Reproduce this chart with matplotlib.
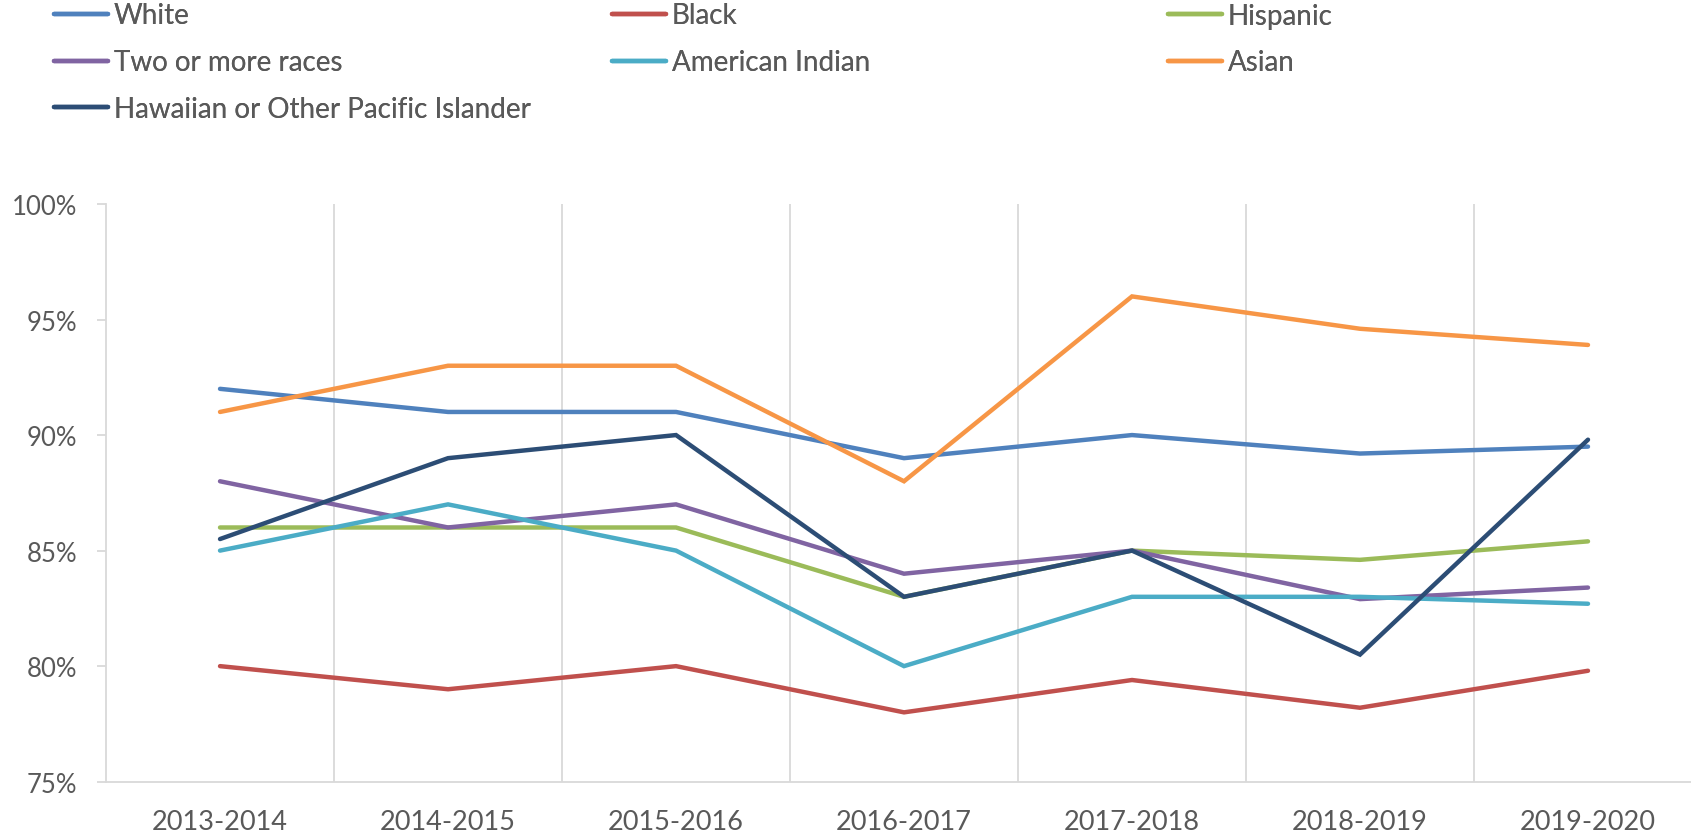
import matplotlib
matplotlib.use('Agg')
import matplotlib.pyplot as plt
from matplotlib.ticker import FuncFormatter, MultipleLocator

# --- data ---
years = ['2013-2014', '2014-2015', '2015-2016', '2016-2017',
         '2017-2018', '2018-2019', '2019-2020']

white = [92.0, 91.0, 91.0, 89.0, 90.0, 89.2, 89.5]
black = [80.0, 79.0, 80.0, 78.0, 79.4, 78.2, 79.8]
hispanic = [86.0, 86.0, 86.0, 83.0, 85.0, 84.6, 85.4]
two_more = [88.0, 86.0, 87.0, 84.0, 85.0, 82.9, 83.4]
am_indian = [85.0, 87.0, 85.0, 80.0, 83.0, 83.0, 82.7]
asian = [91.0, 93.0, 93.0, 88.0, 96.0, 94.6, 93.9]
hawaiian = [85.5, 89.0, 90.0, 83.0, 85.0, 80.5, 89.8]

SERIES = [
    ('White', white, '#4F81BD'),
    ('Black', black, '#C0504D'),
    ('Hispanic', hispanic, '#9BBB59'),
    ('Two or more races', two_more, '#8064A2'),
    ('American Indian', am_indian, '#4BACC6'),
    ('Asian', asian, '#F79646'),
    ('Hawaiian or Other Pacific Islander', hawaiian, '#2C4D75'),
]

TEXT_COLOR = '#595959'
GRID_COLOR = '#D9D9D9'

plt.rcParams['font.family'] = ['Lato', 'DejaVu Sans']
plt.rcParams['font.size'] = 18

fig = plt.figure(figsize=(16.91, 8.37), dpi=100)
ax = fig.add_axes([0.0627, 0.0649, 0.9438, 0.6902])

x = list(range(len(years)))
lines = {}
for name, vals, color in SERIES:
    ln, = ax.plot(x, vals, color=color, lw=3.2, solid_capstyle='round',
                  solid_joinstyle='miter', label=name)
    lines[name] = ln

ax.set_xlim(-0.5, len(years) - 0.5)
ax.set_ylim(75, 100)
ax.yaxis.set_major_locator(MultipleLocator(5))
ax.yaxis.set_major_formatter(FuncFormatter(lambda v, p: f'{v:.0f}%'))
ax.set_xticks(x)
ax.set_xticklabels(years)

# vertical separators between categories
for b in range(1, len(years)):
    ax.axvline(b - 0.5, color=GRID_COLOR, lw=1.3, zorder=0)

for s in ['top', 'right']:
    ax.spines[s].set_visible(False)
for s in ['left', 'bottom']:
    ax.spines[s].set_color(GRID_COLOR)
    ax.spines[s].set_linewidth(1.3)

ax.tick_params(axis='y', length=6.5, width=1.3, color=GRID_COLOR, pad=14,
               labelcolor=TEXT_COLOR, labelsize=18.5)
ax.tick_params(axis='x', length=0, pad=20, labelcolor=TEXT_COLOR, labelsize=19.5)

# legend laid out in three fixed-width columns like the original
columns = [
    (['White', 'Two or more races', 'Hawaiian or Other Pacific Islander'], 54),
    (['Black', 'American Indian'], 612),
    (['Hispanic', 'Asian'], 1168),
]
W, H = fig.get_size_inches() * fig.dpi
for names, px in columns:
    leg = fig.legend([lines[n] for n in names], names,
                     loc='upper left', bbox_to_anchor=(px / W, 1 - 3.5 / H),
                     frameon=False, fontsize=20, handlelength=1.95,
                     handletextpad=0.2, labelspacing=0.75,
                     borderaxespad=0, borderpad=0.0)
    for t in leg.get_texts():
        t.set_color(TEXT_COLOR)
    fig.add_artist(leg)

fig.savefig('out.png', dpi=100)
